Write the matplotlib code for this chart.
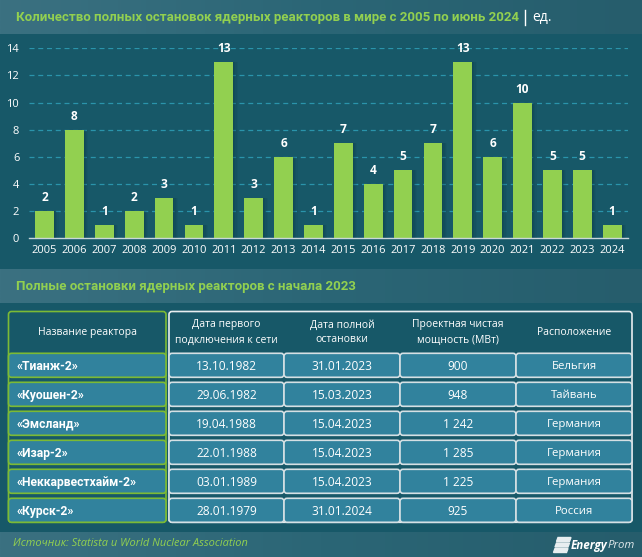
import matplotlib
matplotlib.use('Agg')
import matplotlib.pyplot as plt
from matplotlib.patches import FancyBboxPatch
from matplotlib.colors import LinearSegmentedColormap
import numpy as np

plt.rcParams['font.family'] = ['Open Sans', 'DejaVu Sans']

years = list(range(2005, 2025))
shutdowns = [2, 8, 1, 2, 3, 1, 13, 3, 6, 1, 7, 4, 5, 7, 13, 6, 10, 5, 5, 1]

title_top = 'Количество полных остановок ядерных реакторов в мире с 2005 по июнь 2024'
title_table = 'Полные остановки ядерных реакторов с начала 2023'
source = 'Источник: Statista и World Nuclear Association'

col_headers = ['Название реактора', 'Дата первого\nподключения к сети', 'Дата полной\nостановки',
               'Проектная чистая\nмощность (МВт)', 'Расположение']
reactors = ['«Тианж-2»', '«Куошен-2»', '«Эмсланд»', '«Изар-2»', '«Неккарвестхайм-2»', '«Курск-2»']
first_grid = ['13.10.1982', '29.06.1982', '19.04.1988', '22.01.1988', '03.01.1989', '28.01.1979']
shutdown_date = ['31.01.2023', '15.03.2023', '15.04.2023', '15.04.2023', '15.04.2023', '31.01.2024']
capacity = ['900', '948', '1 242', '1 285', '1 225', '925']
location = ['Бельгия', 'Тайвань', 'Германия', 'Германия', 'Германия', 'Россия']

BG = '#175868'
GREEN = '#92d050'
ROW = '#31829d'
W, H = 642, 557

fig = plt.figure(figsize=(W / 100, H / 100), dpi=100, facecolor=BG)
page = fig.add_axes([0, 0, 1, 1])
page.set_xlim(0, W)
page.set_ylim(H, 0)
page.axis('off')

# header / footer bands with left-to-right fade
band_cmap = LinearSegmentedColormap.from_list('band', ['#3b7181', '#2b6676', '#265d6c'])
grad = np.linspace(0, 1, 256).reshape(1, -1)
for top, bottom in [(0, 34), (269, 303), (532, 557)]:
    page.imshow(grad, extent=(0, W, bottom, top), cmap=band_cmap, aspect='auto', zorder=1)
page.set_xlim(0, W)
page.set_ylim(H, 0)

page.text(16, 17.5, title_top, color=GREEN, fontsize=9.55, fontweight='bold', family='Roboto',
          va='center', ha='left', zorder=3)
page.plot([525, 525], [10, 24.5], color='white', lw=1, zorder=3)
page.text(532, 17.5, 'ед.', color='white', fontsize=10, va='center', ha='left', zorder=3)
page.text(16, 286.5, title_table, color=GREEN, fontsize=9.55, fontweight='bold', family='Roboto',
          va='center', ha='left', zorder=3)
page.text(13, 544, source, color=GREEN, fontsize=7.9, style='italic', va='center', ha='left', zorder=3)

# bar chart
ax = fig.add_axes([29 / W, 1 - 238.3 / H, (628 - 29) / W, (238.3 - 48.3) / H])
ax.patch.set_alpha(0)
x = np.arange(len(years))
ax.set_xlim(-0.52, 19.53)
ax.set_ylim(0, 14)
ax.yaxis.grid(True, color='#2a94ab', lw=0.9, ls=(0, (4, 3)), zorder=0)
ax.set_axisbelow(True)
# soft shadow to the right of each bar
for off, a in zip([0.16, 0.12, 0.08, 0.04], [0.07, 0.09, 0.11, 0.13]):
    ax.bar(x + off, shutdowns, width=0.62, color='#0a2f3a', alpha=a, zorder=1.5)
ax.bar(x, shutdowns, width=0.63, color=GREEN, zorder=2)
for xi, v in zip(x, shutdowns):
    ax.annotate(str(v), (xi, v), xytext=(0, 5), textcoords='offset points', ha='center', va='bottom',
                color='white', fontsize=8.6, fontweight='bold', annotation_clip=False)
for s in ['top', 'right', 'left']:
    ax.spines[s].set_visible(False)
ax.spines['bottom'].set_color('#c9d6da')
ax.spines['bottom'].set_linewidth(1)
ax.set_xticks(x)
ax.set_xticklabels(years, color='white', fontsize=8)
ax.set_yticks(range(0, 15, 2))
ax.tick_params(axis='both', length=0, labelcolor='white', labelsize=8)
ax.tick_params(axis='x', pad=5)
ax.tick_params(axis='y', pad=7)


def box(x0, y0, x1, y1, fc, ec, lw=1.2, r=3):
    page.add_patch(FancyBboxPatch((x0, y0), x1 - x0, y1 - y0, boxstyle=f'round,pad=0,rounding_size={r}',
                                  fc=fc, ec=ec, lw=lw, zorder=2))


# table
col_edges = [169, 284, 400, 516, 632]
row_top = 353.3
row_h = 24
row_step = 29
header_mid = 332.5
bottom = row_top + 5 * row_step + row_h

box(8.5, 311.5, 166, bottom, 'none', '#7cba35', lw=1.2)
box(169, 311.5, 632, bottom, 'none', '#e8eef0', lw=1.2)

page.text(87, header_mid, col_headers[0], color='white', fontsize=7.5, ha='center', va='center', zorder=4)
for j, head in enumerate(col_headers[1:]):
    page.text((col_edges[j] + col_edges[j + 1]) / 2, header_mid, head, color='white', fontsize=7.45,
              ha='center', va='center', linespacing=1.5, zorder=4)

columns = [first_grid, shutdown_date, capacity, location]
for i, name in enumerate(reactors):
    y0 = row_top + i * row_step
    y1 = y0 + row_h
    ym = (y0 + y1) / 2 + 1
    box(8.5, y0, 166, y1, ROW, '#7cba35')
    page.text(17, ym, name, color='white', fontsize=8.7, fontweight='bold', family='Roboto',
              ha='left', va='center', zorder=4)
    for j, col in enumerate(columns):
        box(col_edges[j], y0, col_edges[j + 1], y1, ROW, '#d5e0e4')
        page.text((col_edges[j] + col_edges[j + 1]) / 2, ym, col[i], color='white',
                  fontsize=8.6 if j < 3 else 8.2, ha='center', va='center', zorder=4)

# logo
for yb, shift in [(537.5, 3), (543, 1.5), (548.5, 0)]:
    page.fill([555 + shift, 568 + shift, 566.5 + shift, 553.5 + shift], [yb, yb, yb + 4, yb + 4], color='#e8eef0', zorder=3)
page.text(571, 545.5, 'Energy', color='white', fontsize=8.4, fontweight='bold', style='italic', ha='left', va='center', zorder=3)
page.text(607.5, 545.5, 'Prom', color='#dfe8ea', fontsize=8.2, style='italic', ha='left', va='center', zorder=3)

fig.savefig('out.png', dpi=100, facecolor=BG)
